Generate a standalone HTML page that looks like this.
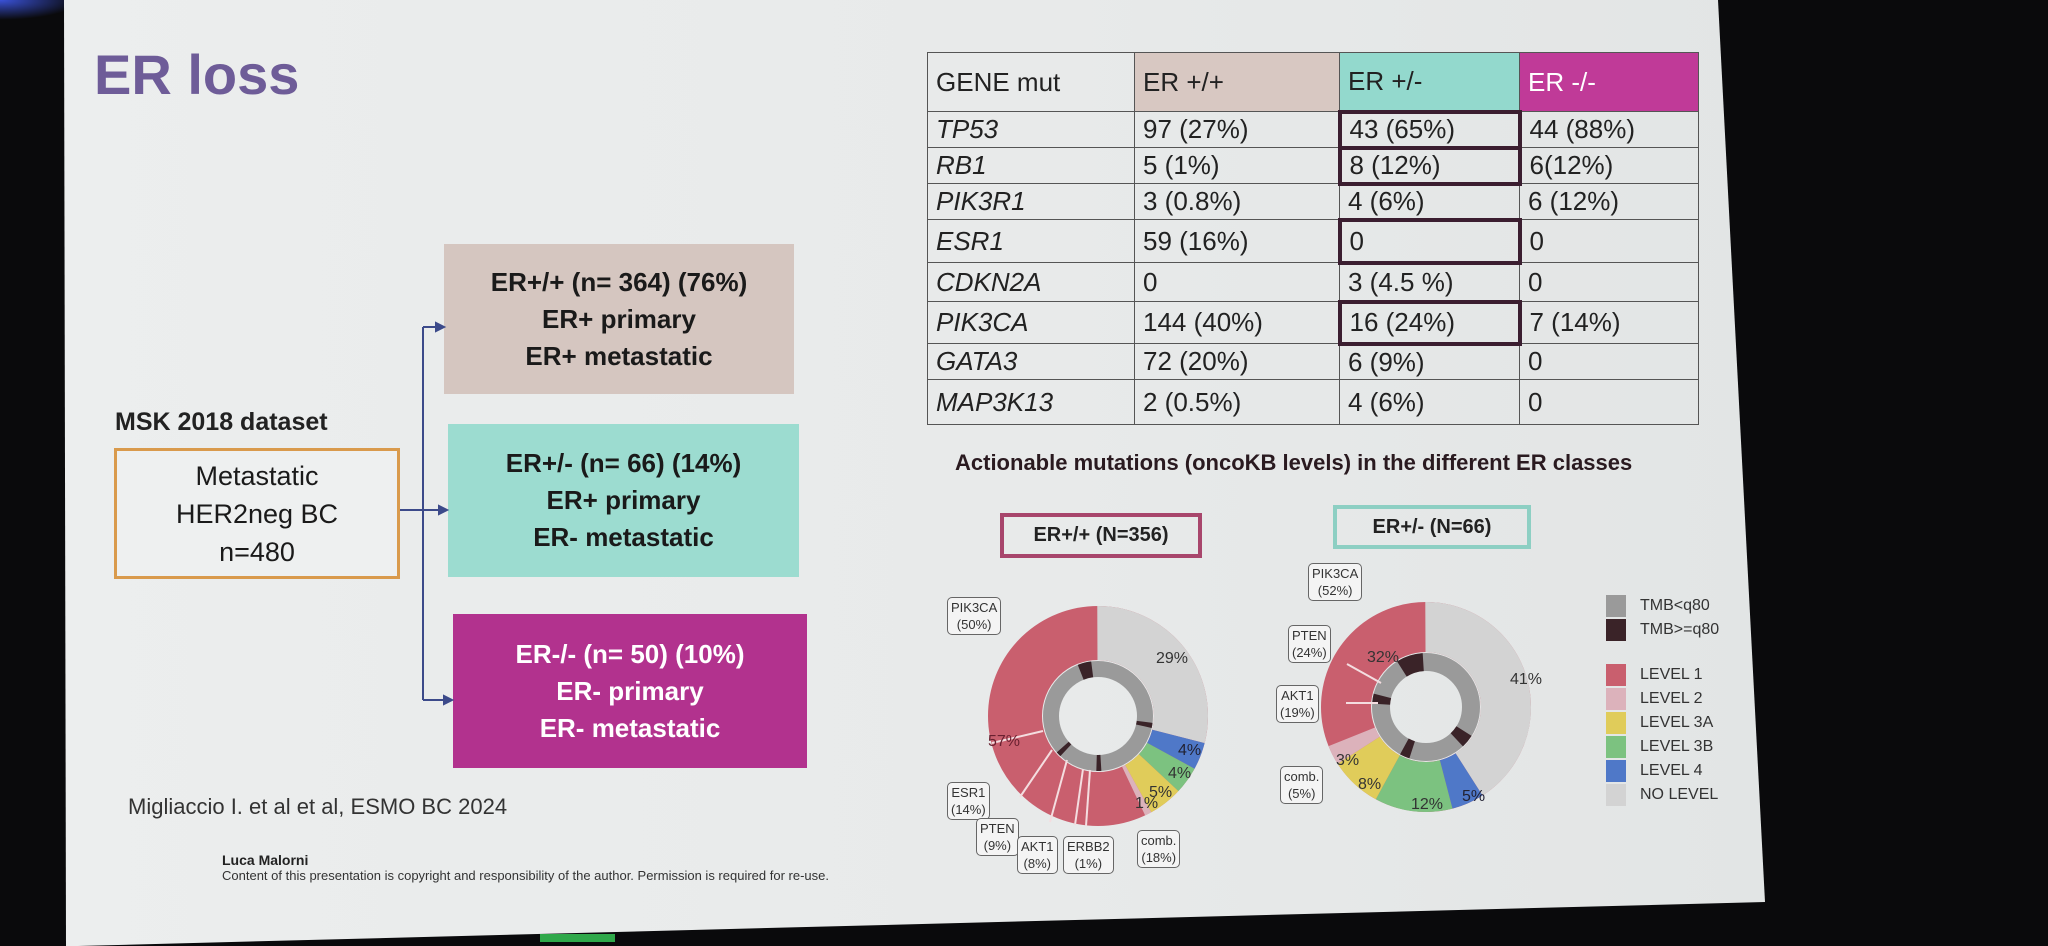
<!DOCTYPE html>
<html><head><meta charset="utf-8"><style>
*{margin:0;padding:0;box-sizing:border-box}
body{width:2048px;height:946px;background:#0a0a0c;position:relative;overflow:hidden;font-family:"Liberation Sans",sans-serif}
#slide{position:absolute;left:0;top:0;width:2048px;height:946px;background:linear-gradient(90deg,#eceeee 0%,#e8eaea 50%,#e0e3e3 100%);clip-path:polygon(64px 0,1718px 0,1765px 902px,78px 946px,66px 946px)}
.abs{position:absolute}
.box{position:absolute;text-align:center;font-weight:bold;font-size:26px;line-height:37px;color:#1a1a1a;display:flex;flex-direction:column;justify-content:center}
table{position:absolute;left:927px;top:52px;border-collapse:collapse;font-size:26px;color:#222}
td{border:1.5px solid #555;padding:0 8px;height:36px;white-space:nowrap}
td.g{font-style:italic}
.hdr td{height:59px;font-size:26px}
.lab{position:absolute;border:1.5px solid #666;border-radius:5px;background:#f4f4f4;font-size:13px;text-align:center;line-height:17px;padding:1px 3px;color:#333}
.leg{position:absolute;left:1606px;font-size:16px;color:#333}
.leg i{display:inline-block;width:20px;height:22px;vertical-align:middle;margin-right:14px}
</style></head><body>
<div class="abs" style="left:0;top:0;width:80px;height:20px;background:radial-gradient(ellipse at 0 0,#3a52d8,transparent 70%)"></div>
<div id="slide">
<div class="abs" style="left:94px;top:42px;font-size:56px;font-weight:bold;color:#6e5c98">ER loss</div>

<table>
<tr class="hdr"><td style="width:207px">GENE mut</td><td style="width:205px;background:#d8c8c2">ER +/+</td><td style="width:180px;background:#93d9cd">ER +/-</td><td style="width:179px;background:#c03a98;color:#fff">ER -/-</td></tr>
<tr><td class="g">TP53</td><td>97 (27%)</td><td style="border:4px solid #3b1e30">43 (65%)</td><td>44 (88%)</td></tr>
<tr><td class="g">RB1</td><td>5 (1%)</td><td style="border:4px solid #3b1e30">8 (12%)</td><td>6(12%)</td></tr>
<tr><td class="g">PIK3R1</td><td>3 (0.8%)</td><td>4 (6%)</td><td>6 (12%)</td></tr>
<tr><td class="g" style="height:43px">ESR1</td><td>59 (16%)</td><td style="border:4px solid #3b1e30">0</td><td>0</td></tr>
<tr><td class="g" style="height:39px">CDKN2A</td><td>0</td><td>3 (4.5 %)</td><td>0</td></tr>
<tr><td class="g" style="height:42px">PIK3CA</td><td>144 (40%)</td><td style="border:4px solid #3b1e30">16 (24%)</td><td>7 (14%)</td></tr>
<tr><td class="g">GATA3</td><td>72 (20%)</td><td>6 (9%)</td><td>0</td></tr>
<tr><td class="g" style="height:45px">MAP3K13</td><td>2 (0.5%)</td><td>4 (6%)</td><td>0</td></tr>
</table>

<div class="box" style="left:444px;top:244px;width:350px;height:150px;background:#d5c6c0">ER+/+ (n= 364) (76%)<br>ER+ primary<br>ER+ metastatic</div>
<div class="box" style="left:448px;top:424px;width:351px;height:153px;background:#9cdcd0">ER+/- (n= 66) (14%)<br>ER+ primary<br>ER- metastatic</div>
<div class="box" style="left:453px;top:614px;width:354px;height:154px;background:#b2328e;color:#fff">ER-/- (n= 50) (10%)<br>ER- primary<br>ER- metastatic</div>
<div class="abs" style="left:115px;top:408px;font-size:25px;font-weight:bold;color:#222">MSK 2018 dataset</div>
<div class="box" style="left:114px;top:448px;width:286px;height:131px;border:3px solid #d99a4c;background:#eef0f0;font-weight:normal;font-size:27px;line-height:38px">Metastatic<br>HER2neg BC<br>n=480</div>
<svg class="abs" style="left:0;top:0" width="900" height="800">
<g stroke="#3c4a8a" stroke-width="2" fill="#3c4a8a">
<line x1="400" y1="510" x2="440" y2="510"/><line x1="423" y1="327" x2="423" y2="700"/>
<line x1="423" y1="327" x2="440" y2="327"/><line x1="423" y1="700" x2="446" y2="700"/>
<polygon points="444,327 436,323 436,331"/><polygon points="447,510 439,506 439,514"/><polygon points="452,700 444,696 444,704"/>
</g></svg>
<div class="abs" style="left:128px;top:794px;font-size:22px;color:#333">Migliaccio I. et al et al, ESMO BC 2024</div>
<div class="abs" style="left:222px;top:852px;font-size:14px;font-weight:bold;color:#222">Luca Malorni</div>
<div class="abs" style="left:222px;top:868px;font-size:13px;color:#333">Content of this presentation is copyright and responsibility of the author. Permission is required for re-use.</div>

<div class="abs" style="left:955px;top:450px;font-size:22px;font-weight:bold;color:#2a1a20">Actionable mutations (oncoKB levels) in the different ER classes</div>
<div class="abs" style="left:1000px;top:513px;width:202px;height:45px;border:4px solid #a8466c;font-size:20px;font-weight:bold;text-align:center;line-height:37px;color:#222">ER+/+ (N=356)</div>
<div class="abs" style="left:1333px;top:505px;width:198px;height:44px;border:4px solid #8dcfc3;font-size:20px;font-weight:bold;text-align:center;line-height:36px;color:#222">ER+/- (N=66)</div>

<svg class="abs" style="left:0;top:0" width="2048" height="946">
<g transform="translate(1098,716) rotate(-90)" fill="none">
<circle r="83" stroke="#c95f6e" stroke-width="54"/>
<circle r="83" pathLength="100" stroke="#d3d3d3" stroke-width="54" stroke-dasharray="29 71"/>
<circle r="83" pathLength="100" stroke="#4f78c8" stroke-width="54" stroke-dasharray="4 96" stroke-dashoffset="-29"/>
<circle r="83" pathLength="100" stroke="#7cc280" stroke-width="54" stroke-dasharray="4 96" stroke-dashoffset="-33"/>
<circle r="83" pathLength="100" stroke="#e0cc5a" stroke-width="54" stroke-dasharray="5 95" stroke-dashoffset="-37"/>
<circle r="83" pathLength="100" stroke="#dcb2bb" stroke-width="54" stroke-dasharray="1 99" stroke-dashoffset="-42"/>
<circle r="47" stroke="#9a9a9a" stroke-width="16"/>
<circle r="47" pathLength="100" stroke="#3a2328" stroke-width="16" stroke-dasharray="4 96" stroke-dashoffset="-94"/>
<circle r="47" pathLength="100" stroke="#3a2328" stroke-width="16" stroke-dasharray="1.5 98.5" stroke-dashoffset="-27"/>
<circle r="47" pathLength="100" stroke="#3a2328" stroke-width="16" stroke-dasharray="1.5 98.5" stroke-dashoffset="-49"/>
<circle r="47" pathLength="100" stroke="#3a2328" stroke-width="16" stroke-dasharray="1.5 98.5" stroke-dashoffset="-62"/>
</g>
<g stroke="#f4dde0" stroke-width="2">
<line x1="1043" y1="731" x2="992" y2="743"/><line x1="1052" y1="750" x2="1020" y2="797"/><line x1="1067" y1="760" x2="1050" y2="822"/><line x1="1083" y1="769" x2="1075" y2="825"/><line x1="1090" y1="770" x2="1086" y2="826"/>
</g>
<g transform="translate(1426,707) rotate(-90)" fill="none">
<circle r="80" stroke="#c95f6e" stroke-width="50"/>
<circle r="80" pathLength="100" stroke="#d3d3d3" stroke-width="50" stroke-dasharray="41 59"/>
<circle r="80" pathLength="100" stroke="#4f78c8" stroke-width="50" stroke-dasharray="5 95" stroke-dashoffset="-41"/>
<circle r="80" pathLength="100" stroke="#7cc280" stroke-width="50" stroke-dasharray="12 88" stroke-dashoffset="-46"/>
<circle r="80" pathLength="100" stroke="#e0cc5a" stroke-width="50" stroke-dasharray="8 92" stroke-dashoffset="-58"/>
<circle r="80" pathLength="100" stroke="#dcb2bb" stroke-width="50" stroke-dasharray="3 97" stroke-dashoffset="-66"/>
<circle r="45" stroke="#9a9a9a" stroke-width="18"/>
<circle r="45" pathLength="100" stroke="#3a2328" stroke-width="18" stroke-dasharray="8 92" stroke-dashoffset="-91"/>
<circle r="45" pathLength="100" stroke="#3a2328" stroke-width="18" stroke-dasharray="4 96" stroke-dashoffset="-34"/>
<circle r="45" pathLength="100" stroke="#3a2328" stroke-width="18" stroke-dasharray="3 97" stroke-dashoffset="-55"/>
<circle r="45" pathLength="100" stroke="#3a2328" stroke-width="18" stroke-dasharray="3 97" stroke-dashoffset="-76"/>
</g>
<g stroke="#f4dde0" stroke-width="2">
<line x1="1381" y1="683" x2="1347" y2="664"/><line x1="1378" y1="703" x2="1346" y2="703"/>
</g>
<g font-family="Liberation Sans" font-size="16" fill="#333">
<text x="1156" y="663">29%</text><text x="1178" y="755" fill="#223">4%</text><text x="1168" y="778">4%</text><text x="1149" y="797">5%</text><text x="1135" y="808">1%</text><text x="988" y="746" fill="#6a2030">57%</text>
<text x="1510" y="684">41%</text><text x="1462" y="801" fill="#223">5%</text><text x="1411" y="809">12%</text><text x="1358" y="789">8%</text><text x="1336" y="765">3%</text><text x="1367" y="662">32%</text>
</g>
</svg>
<div class="lab" style="left:947px;top:597px">PIK3CA<br>(50%)</div>
<div class="lab" style="left:947px;top:782px">ESR1<br>(14%)</div>
<div class="lab" style="left:976px;top:818px">PTEN<br>(9%)</div>
<div class="lab" style="left:1017px;top:836px">AKT1<br>(8%)</div>
<div class="lab" style="left:1063px;top:836px">ERBB2<br>(1%)</div>
<div class="lab" style="left:1137px;top:830px">comb.<br>(18%)</div>
<div class="lab" style="left:1308px;top:563px">PIK3CA<br>(52%)</div>
<div class="lab" style="left:1288px;top:625px">PTEN<br>(24%)</div>
<div class="lab" style="left:1276px;top:685px">AKT1<br>(19%)</div>
<div class="lab" style="left:1280px;top:766px">comb.<br>(5%)</div>

<div class="leg" style="top:595px"><i style="background:#9a9a9a"></i>TMB&lt;q80</div>
<div class="leg" style="top:619px"><i style="background:#3a2328"></i>TMB&gt;=q80</div>
<div class="leg" style="top:664px"><i style="background:#c95f6e"></i>LEVEL 1</div>
<div class="leg" style="top:688px"><i style="background:#dcb2bb"></i>LEVEL 2</div>
<div class="leg" style="top:712px"><i style="background:#e0cc5a"></i>LEVEL 3A</div>
<div class="leg" style="top:736px"><i style="background:#7cc280"></i>LEVEL 3B</div>
<div class="leg" style="top:760px"><i style="background:#4f78c8"></i>LEVEL 4</div>
<div class="leg" style="top:784px"><i style="background:#d3d3d3"></i>NO LEVEL</div>
</div>
<div class="abs" style="left:540px;top:934px;width:75px;height:8px;background:#2fa84a"></div>
</body></html>
